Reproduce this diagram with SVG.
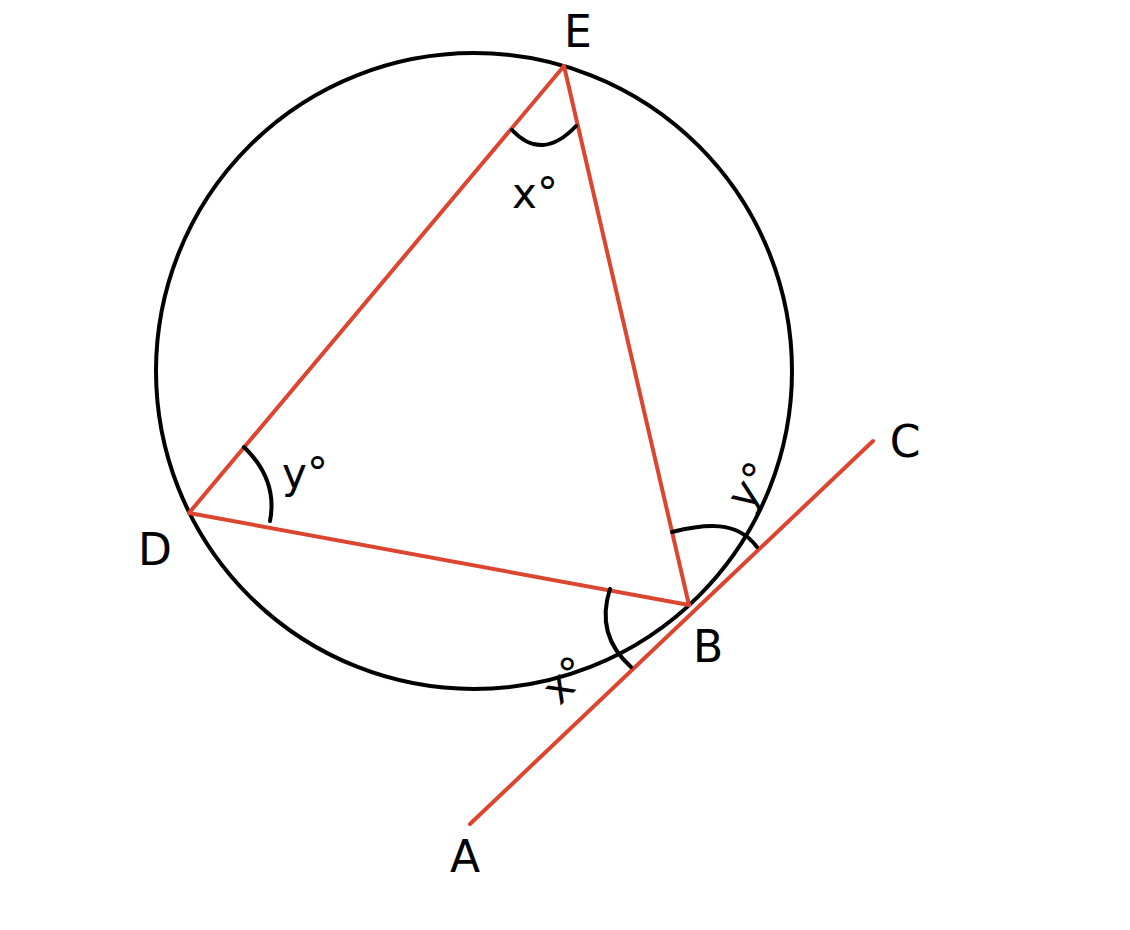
<svg xmlns="http://www.w3.org/2000/svg" width="1130" height="930" viewBox="0 0 1130 930">
<style>
.red{stroke:#dc4530;stroke-width:4;fill:none;stroke-linecap:round}
.blk{stroke:#000;stroke-width:4;fill:none;stroke-linecap:round}
.lbl{font-family:"Comic Sans MS","DejaVu Sans",sans-serif;font-size:44px;fill:#000;text-anchor:middle}
.ang{font-family:"Comic Sans MS","DejaVu Sans",sans-serif;font-size:42px;fill:#000;text-anchor:middle}
</style>
<rect width="1130" height="930" fill="#fff"/>
<g id="circle"><circle cx="474" cy="371" r="318" class="blk"/></g>
<g id="connectors">
<path class="red" d="M564,66 L189,513"/>
<path class="red" d="M564,66 L689,605"/>
<path class="red" d="M189,513 L689,605"/>
<path class="red" d="M470,824 L873,441"/>
</g>
<g id="angles">
<path class="blk" d="M512,130 Q542,162 576,126"/>
<path class="blk" d="M244,447 Q278,480 270,521"/>
<path class="blk" d="M672,532 C705,524 737,520 757,547"/>
<path class="blk" d="M610,589 Q595,635 631,667"/>
</g>
<g id="E"><text class="lbl" x="578" y="47">E</text></g>
<g id="D"><text class="lbl" x="155" y="565">D</text></g>
<g id="B"><text class="lbl" x="708" y="662">B</text></g>
<g id="C"><text class="lbl" x="905" y="457">C</text></g>
<g id="A"><text class="lbl" x="465" y="872">A</text></g>
<g id="labels">
<text class="ang" x="535" y="208">x°</text>
<text class="ang" x="305" y="488">y°</text>
<text class="ang" font-size="46" transform="translate(576,690) rotate(-45)">x°</text>
<text class="ang" font-size="46" transform="translate(762,494) rotate(-55)">y°</text>
</g>
</svg>
